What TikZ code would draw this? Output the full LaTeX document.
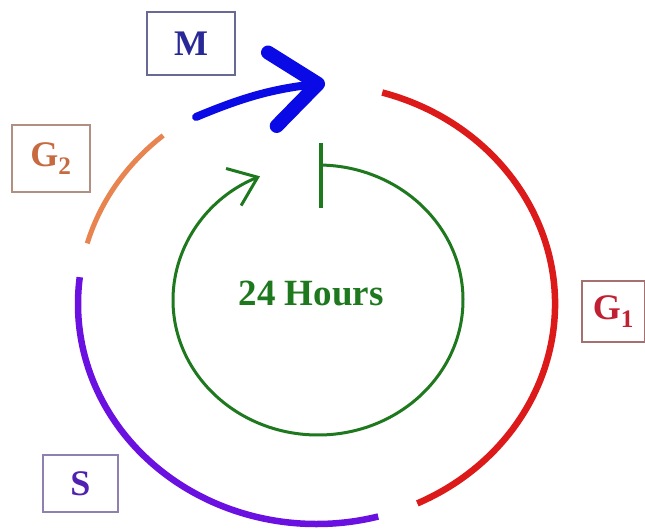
\documentclass[tikz,border=0pt]{standalone}
\usepackage{fontspec}
\setmainfont{Liberation Serif}
\usetikzlibrary{arrows.meta}
\definecolor{cRed}{RGB}{221,26,26}
\definecolor{cPurple}{RGB}{106,16,224}
\definecolor{cOrange}{RGB}{232,132,79}
\definecolor{cBlue}{RGB}{10,10,230}
\definecolor{cGreen}{RGB}{30,120,30}
\definecolor{tM}{RGB}{40,40,150}
\definecolor{bM}{RGB}{105,105,150}
\definecolor{tGtwo}{RGB}{200,106,64}
\definecolor{bGtwo}{RGB}{176,144,128}
\definecolor{tGone}{RGB}{192,32,50}
\definecolor{bGone}{RGB}{165,112,112}
\definecolor{tS}{RGB}{80,32,176}
\definecolor{bS}{RGB}{144,128,176}
\tikzset{
  lbl/.style={draw, line width=1.5pt, inner sep=0pt,
    font=\fontsize{36}{40}\selectfont\bfseries},
  phase/.style={line width=6.5pt},
  outer/.style={x radius=238.5pt, y radius=220pt},
  inner/.style={x radius=145pt, y radius=135pt}
}
\begin{document}
\begin{tikzpicture}[x=1pt,y=1pt]
\useasboundingbox (0,0) rectangle (645,531);
\clip (0,0) rectangle (645,531);
\coordinate (O) at (316.5,227);
\coordinate (C) at (318,231);
% outer phases
\draw[phase, cRed] (O) ++(74:238.5pt and 220pt) arc[start angle=74, end angle=-65, outer];
\draw[phase, cPurple] (O) ++(-75:238.5pt and 220pt) arc[start angle=-75, end angle=-187, outer];
\draw[line width=5pt, cOrange] (O) ++(164:238.5pt and 220pt) arc[start angle=164, end angle=130, outer];
% blue mitosis arrow
\coordinate (mt) at (196,414);
\coordinate (mh) at (325,448);
\draw[cBlue, line width=8pt, line cap=round,
  -{Straight Barb[length=46pt, width=74pt, line width=14pt, round]}]
  (mt) to[bend left=8] (mh);
% inner 24 hours cycle
\draw[cGreen, line width=3pt, -{Straight Barb[length=26pt, width=40pt]}]
  (C) ++(89:145pt and 135pt) arc[start angle=89, end angle=-246.4, inner];
\coordinate (bt) at (321,388);
\coordinate (bb) at (321,323);
\draw[cGreen, line width=3.5pt] (bt) -- (bb);
\node[font=\fontsize{37}{40}\selectfont\bfseries, text=cGreen] (hrs) at (311,238) {24 Hours};
% labels
\node[lbl, draw=bM, text=tM, minimum width=88pt, minimum height=63pt] (M) at (191,487.5) {M};
\node[lbl, draw=bGtwo, text=tGtwo, minimum width=78pt, minimum height=67pt] (G2) at (51,372.5) {G\textsubscript{2}};
\node[lbl, draw=bGone, text=tGone, minimum width=63pt, minimum height=61pt] (G1) at (613.5,219.5) {G\textsubscript{1}};
\node[lbl, draw=bS, text=tS, minimum width=75pt, minimum height=57pt] (S) at (80.5,47.5) {S};
\end{tikzpicture}
\end{document}
